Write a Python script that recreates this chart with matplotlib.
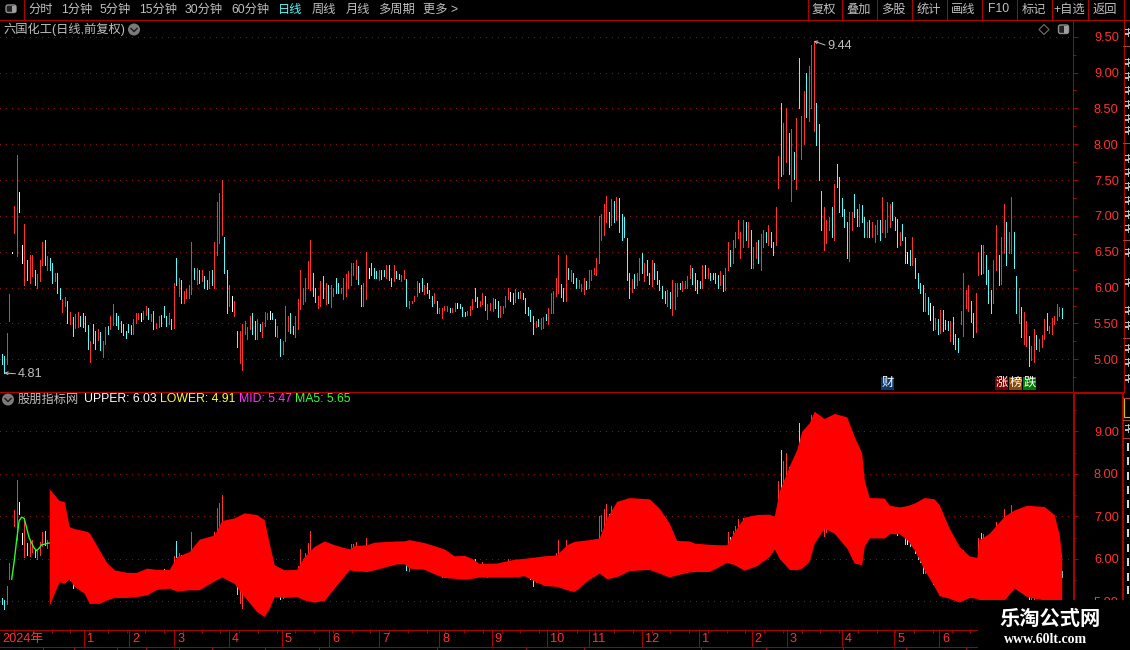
import numpy as np
import matplotlib
matplotlib.use("Agg")
import matplotlib.pyplot as plt
from matplotlib.patches import FancyBboxPatch, Rectangle, Circle, Polygon
from matplotlib.ticker import MultipleLocator, FormatStrFormatter

plt.rcParams['font.family'] = ['Liberation Sans', 'Noto Sans CJK SC', 'DejaVu Sans']
plt.rcParams['lines.scale_dashes'] = False

# ---------- data ----------
bar_high = [
 5.07,5.04,5.37,5.91,6.49,7.14,7.85,7.34,6.60,6.89,
 6.38,6.45,6.45,6.24,6.19,6.39,6.63,6.66,6.44,6.41,
 6.34,6.21,6.20,5.99,5.84,5.87,5.81,5.66,5.59,5.63,
 5.66,5.60,5.64,5.60,5.48,5.25,5.49,5.39,5.42,5.38,
 5.25,5.45,5.46,5.60,5.77,5.64,5.60,5.53,5.49,5.39,
 5.49,5.48,5.56,5.64,5.64,5.64,5.67,5.75,5.71,5.63,
 5.67,5.50,5.60,5.62,5.75,5.60,5.64,5.56,6.06,6.41,
 6.14,6.10,5.95,5.98,6.03,6.63,6.27,6.28,6.24,6.25,
 6.16,6.10,6.23,6.24,6.64,7.19,7.32,7.50,6.70,6.24,
 6.03,5.88,5.81,5.39,5.39,5.49,5.53,5.45,5.60,5.64,
 5.53,5.56,5.49,5.52,5.66,5.64,5.67,5.64,5.56,5.46,
 5.28,5.25,5.74,5.60,5.64,5.46,5.60,5.84,
 6.24,5.99,6.14,6.37,6.66,6.20,5.99,5.89,6.09,6.16,
 6.06,6.03,6.03,6.00,6.13,6.07,6.00,6.13,6.19,6.23,
 6.35,6.34,6.39,6.30,6.03,6.06,6.49,6.28,6.34,6.27,
 6.23,6.24,6.24,6.25,6.32,6.32,6.13,6.31,6.23,6.19,
 6.17,6.24,6.12,5.81,5.82,5.89,6.09,6.06,6.13,6.03,
 6.06,5.96,5.88,5.92,5.81,5.71,5.71,5.75,5.74,5.71,
 5.71,5.78,5.78,5.77,5.73,5.66,5.67,5.74,5.84,5.99,
 5.87,5.81,5.92,5.88,5.77,5.78,5.85,5.84,5.81,5.74,
 5.74,5.89,6.00,5.94,5.92,5.98,5.94,5.95,5.92,5.85,
 5.73,5.69,5.60,5.53,5.56,5.57,5.59,5.63,5.71,5.92,
 5.95,6.14,6.45,6.05,5.99,6.45,6.27,6.24,6.20,6.13,
 6.10,6.05,6.13,6.09,6.25,6.25,6.28,6.41,7.00,
 7.02,7.17,7.28,7.05,7.23,7.21,7.27,7.25,7.02,6.98,
 6.69,6.20,6.12,6.19,6.20,6.41,6.48,6.35,6.38,6.21,
 6.38,6.35,6.23,6.10,6.02,5.95,5.96,5.94,6.10,6.06,
 6.06,6.06,6.09,6.09,6.16,6.32,6.28,6.20,6.10,6.09,
 6.31,6.32,6.27,6.21,6.20,6.20,6.17,6.23,6.17,6.27,
 6.64,6.52,6.66,6.77,6.94,6.77,6.95,6.91,6.91,6.80,
 6.57,6.64,6.66,6.75,6.80,6.78,6.88,6.77,6.64,7.13,
 7.84,8.57,8.30,8.50,8.16,8.21,7.89,8.37,9.20,8.39,
 8.74,8.99,9.09,9.38,9.44,8.57,8.28,7.35,7.12,6.95,
 6.99,7.13,7.44,7.73,7.55,7.25,7.10,6.91,7.05,7.05,
 7.31,7.10,7.16,7.15,6.98,6.91,
 6.95,6.91,6.88,6.95,6.95,7.27,6.94,7.19,7.17,7.19,
 6.98,6.96,6.77,6.89,6.71,6.50,6.52,6.70,6.41,6.21,
 6.06,6.03,5.92,5.87,5.78,5.74,5.57,5.56,5.69,5.69,
 5.55,5.53,5.53,5.59,5.35,5.30,5.67,6.21,5.96,6.03,
 5.82,5.64,5.92,6.50,6.60,6.59,6.45,6.24,5.96,6.38,
 6.87,6.46,6.70,7.17,6.91,6.77,7.27,6.77,6.16,5.99,
 5.73,5.66,5.53,5.32,5.19,5.42,5.34,5.28,5.34,5.56,
 5.64,5.46,5.57,5.60,5.77,5.73,5.71,
]
bar_low = [
 4.94,4.81,4.94,5.53,6.48,6.76,6.44,7.06,6.35,6.03,
 6.10,6.06,6.16,6.03,5.99,6.09,6.31,6.32,6.25,6.25,
 6.06,6.09,5.92,5.84,5.66,5.74,5.50,5.49,5.32,5.44,
 5.45,5.46,5.45,5.39,5.14,4.96,5.23,5.14,5.27,5.13,
 5.03,5.21,5.35,5.42,5.48,5.48,5.42,5.38,5.34,5.30,
 5.38,5.35,5.35,5.50,5.56,5.53,5.56,5.62,5.56,5.53,
 5.42,5.44,5.45,5.46,5.59,5.46,5.49,5.42,5.44,6.03,
 5.89,5.78,5.78,5.85,5.85,5.91,6.12,6.05,6.07,6.09,
 6.00,5.98,6.00,6.03,5.99,6.45,6.62,6.74,6.21,5.64,
 5.75,5.67,5.60,5.17,4.95,4.85,5.35,5.28,5.42,5.35,
 5.28,5.28,5.39,5.31,5.46,5.56,5.56,5.56,5.32,5.31,
 5.05,5.07,5.25,5.39,5.37,5.35,5.31,5.42,
 5.70,5.77,5.81,5.99,5.96,5.88,5.80,5.71,5.74,5.85,
 5.77,5.78,5.73,5.88,5.92,5.92,5.92,5.84,5.89,6.00,
 6.03,6.17,6.12,6.05,5.74,5.74,5.84,6.13,6.17,6.14,
 6.13,6.10,6.12,6.16,6.14,6.10,6.02,6.09,6.13,6.12,
 6.09,6.12,5.74,5.71,5.78,5.81,5.88,5.94,5.95,5.91,
 5.92,5.85,5.74,5.78,5.64,5.64,5.57,5.69,5.67,5.66,
 5.66,5.67,5.71,5.71,5.60,5.60,5.62,5.62,5.70,5.81,
 5.73,5.74,5.77,5.69,5.56,5.69,5.67,5.71,5.59,5.59,
 5.64,5.73,5.84,5.82,5.77,5.80,5.85,5.85,5.84,5.64,
 5.62,5.53,5.35,5.45,5.46,5.42,5.44,5.55,5.49,5.64,
 5.64,5.89,5.92,5.87,5.81,5.81,6.12,6.09,6.07,5.99,
 5.99,5.95,5.91,5.98,6.00,6.10,6.19,6.17,6.34,
 6.66,6.73,6.92,6.84,6.88,6.91,6.94,6.77,6.66,6.70,
 6.10,5.85,5.94,6.00,6.03,6.10,6.21,6.09,6.17,6.05,
 6.02,6.12,6.05,5.96,5.85,5.78,5.74,5.71,5.62,5.70,
 5.88,5.98,5.95,5.99,5.99,6.13,6.05,5.96,5.92,6.00,
 6.00,6.13,6.14,6.10,6.12,6.07,5.99,6.03,5.95,5.96,
 6.24,6.30,6.35,6.57,6.69,6.41,6.56,6.66,6.56,6.27,
 6.27,6.42,6.35,6.24,6.57,6.63,6.60,6.56,6.46,6.59,
 7.39,7.56,7.59,7.75,7.59,7.21,7.52,7.37,8.50,7.80,
 8.00,8.38,8.32,8.50,8.19,7.99,7.50,6.80,6.53,6.62,
 6.80,6.70,6.67,7.41,7.06,7.00,6.85,6.41,6.37,6.81,
 6.98,6.86,6.86,6.91,6.71,6.70,
 6.71,6.71,6.64,6.75,6.66,6.78,6.70,6.78,6.84,6.95,
 6.80,6.56,6.60,6.67,6.35,6.34,6.31,6.31,6.13,6.00,
 5.92,5.67,5.67,5.63,5.55,5.41,5.42,5.35,5.37,5.39,
 5.42,5.41,5.25,5.21,5.14,5.10,5.49,5.32,5.71,5.67,
 5.52,5.31,5.38,6.17,6.19,6.20,6.05,5.78,5.64,5.78,
 6.25,6.03,6.05,6.48,6.31,6.48,6.48,6.27,5.64,5.50,
 5.31,5.21,5.19,4.91,4.99,4.96,5.14,5.12,5.17,5.28,
 5.41,5.37,5.35,5.49,5.55,5.60,5.57,
]
# r = up, c = down, w = flat
bar_kind = (
 "ccrrwrrwwr" "crrcrrrcrc" "crccrrcrcr" "rccccrccrc" "rrcrrccccc" "ccrrrwrrcr"
 "crrcccrcrc" "rcrrrrcrcr" "ccrcrrrrcc" "rwrcrrrrrc" "crcrrrwccr" "crrrccrr"
 "rrrrrccrrc" "rcrrccrrrr" "rrrccrrwcc" "crccrccrcc" "rrcrrrrccr" "cccrcrrrrc"
 "rrwcccrrrc" "crrcrrrccr" "rrrwcrcrcc" "cccrcrrcrr" "rrrccrcrcc" "rrrcrrrrr"
 "rrrcrcrccc" "ccrcrrcrcc" "rcccccrcrr" "rcrrrrcccc" "rcrccccrcr" "rcrrrrrcrc"
 "rrcrrcrccr" "rcrrcrcrcr" "rcrrrcccrr" "rcrcccccrr" "ccrccr"
 "crrrcrrrrc" "ccrccwcrcc" "ccrcwcrcrc" "ccrcccrrrr" "ccrrcrcccr" "rcrrcrrccr"
 "crrcrrcrrr" "crrrrrc"
)

# channel in the lower panel (day on the chart's 0-424 session scale)
env_day = [19,21,23,25,27,29,33,35,39,42,45,50,54,58,62,67,70,75,79,85,88,93,97,102,105,107,109,113,118,
           121,125,129,133,139,141,146,149,158,161,163,169,174,177,181,185,188,191,198,205,209,213,217,222,
           226,229,235,239,242,246,251,259,263,267,270,275,277,283,287,290,293,297,302,307,309,311,315,318,
           320,323,325,329,333,338,341,344,345,347,353,355,359,362,365,369,373,375,379,383,387,390,391,395,
           401,405,410,417,421,423,424]
env_upper = [7.65,7.51,7.37,7.35,6.76,6.71,6.66,6.62,6.21,5.91,5.74,5.68,5.68,5.78,5.75,5.75,6.05,6.17,6.46,6.56,6.90,6.96,7.08,7.04,6.92,6.37,5.86,5.74,5.75,
             6.05,6.29,6.42,6.33,6.23,6.31,6.33,6.39,6.42,6.42,6.45,6.38,6.29,6.23,6.07,6.08,6.01,5.89,5.90,5.99,6.01,6.04,6.07,6.09,
             6.33,6.41,6.45,6.49,6.96,7.35,7.44,7.41,7.19,6.84,6.43,6.42,6.37,6.34,6.33,6.33,6.64,6.98,7.04,7.05,7.00,7.59,8.18,8.57,
             9.00,9.20,9.47,9.30,9.42,9.34,8.88,8.49,7.86,7.44,7.43,7.26,7.22,7.25,7.31,7.44,7.41,7.27,6.72,6.29,6.07,6.03,6.45,6.60,
             7.00,7.15,7.26,7.23,7.04,6.56,6.05]
env_lower = [4.89,5.19,5.46,5.42,5.53,5.35,5.19,4.95,4.95,5.03,5.09,5.09,5.11,5.15,5.28,5.31,5.24,5.27,5.27,5.48,5.57,5.42,5.11,4.76,4.64,4.83,5.11,5.09,5.11,
             5.03,4.98,5.02,5.31,5.74,5.72,5.70,5.74,5.88,5.88,5.78,5.75,5.62,5.56,5.54,5.52,5.54,5.57,5.57,5.57,5.60,5.48,5.37,5.35,
             5.27,5.23,5.52,5.66,5.53,5.58,5.72,5.75,5.66,5.57,5.62,5.69,5.70,5.70,5.82,5.92,5.86,5.73,5.84,6.05,6.23,6.01,5.75,5.74,
             5.78,5.94,6.37,6.72,6.60,6.25,5.90,5.86,6.29,6.49,6.49,6.59,6.59,6.45,6.21,5.74,5.35,5.13,5.07,4.98,5.09,5.07,5.03,5.03,
             5.03,5.31,5.11,5.03,5.03,5.00,4.91]

ma5_day = [4,5,6,7,8,9,10,11,12,13,14,15,16,17,18,19]
ma5_val = [5.52,5.94,6.45,6.90,6.98,6.95,6.72,6.49,6.37,6.25,6.19,6.25,6.33,6.34,6.36,6.37]

legend_vals = [("UPPER: 6.03", "#FFFFFF"), ("LOWER: 4.91", "#FFFF33"), ("MID: 5.47", "#FF33FF"), ("MA5: 5.65", "#33FF33")]
month_day = [33,51,69,91,112,131,151,175,196,218,235,256,279,300,314,336,357,375]
month_label = ["1","2","3","4","5","6","7","8","9","10","11","12","1","2","3","4","5","6"]
tool_left = ["分时","1分钟","5分钟","15分钟","30分钟","60分钟","日线","周线","月线","多周期","更多 >"]
tool_right = ["复权","叠加","多股","统计","画线","F10","标记","+自选","返回"]

RED = "#FF3232"; CYAN = "#54FCFC"; WHITE = "#FFFFFF"
FRAME = "#B00000"; GRID = "#8C1010"; GREY = "#C0C0C0"
LW1 = 0.68
kind_color = {"r": RED, "c": CYAN, "w": WHITE}

W, H = 1130, 650
fig = plt.figure(figsize=(W / 100, H / 100), dpi=100, facecolor="black")

def panel(left, top, right, bottom, **kw):
    return fig.add_axes([left / W, 1 - bottom / H, (right - left) / W, (bottom - top) / H], facecolor="black", **kw)

n = len(bar_high)
days = np.arange(n) * 424 / (n - 1)
colors = [kind_color[k] for k in bar_kind]
XLIM = (-0.68, 428.5)

ax_up = panel(0, 20, 1073, 391)
ax_lo = panel(0, 393, 1073, 630)
for ax, ylim, major, minor in ((ax_up, (4.558, 9.733), 0.5, 0.25), (ax_lo, (4.324, 9.90), 1.0, 0.5)):
    ax.vlines(days, bar_low, bar_high, colors=colors, lw=LW1, antialiased=False, zorder=2)
    ax.set_xlim(*XLIM); ax.set_ylim(*ylim)
    ax.set_xticks([])
    ax.yaxis.tick_right()
    ax.yaxis.set_major_locator(MultipleLocator(major))
    ax.yaxis.set_minor_locator(MultipleLocator(minor))
    ax.yaxis.set_major_formatter(FormatStrFormatter("%.2f"))
    ax.tick_params(axis="y", which="major", length=3.6, width=LW1, color=FRAME, labelcolor=RED, labelsize=9.2, pad=11.5)
    ax.tick_params(axis="y", which="minor", length=2.2, width=LW1, color=FRAME)
    ax.grid(axis="y", which="major", color=GRID, lw=LW1, ls=(0, (0.72, 3.6)), antialiased=False, zorder=1)
    ax.set_axisbelow(True)
    for s in ("top", "bottom", "left"):
        ax.spines[s].set_visible(False)
    ax.spines["right"].set_color(FRAME); ax.spines["right"].set_linewidth(LW1)

ax_lo.fill_between(env_day, env_upper, env_lower, color="#FF0000", lw=0, antialiased=False, zorder=3)
ax_lo.plot(ma5_day, ma5_val, color="#22FF22", lw=1.0, zorder=4)

for txt, xy, off in (("4.81", (days[1], 4.81), (14, -1)), ("9.44", (days[int(np.argmax(bar_high))], 9.44), (14, -5))):
    ax_up.annotate(txt, xy=xy, xytext=off, textcoords="offset pixels", color=GREY, fontsize=9.2,
                   ha="left", va="center", annotation_clip=False,
                   arrowprops=dict(arrowstyle="->", color=GREY, lw=0.7, shrinkA=0, shrinkB=0, mutation_scale=5, relpos=(0, 0.5)))

# date strip
ax_dt = panel(0, 630, 1073, 647)
ax_dt.set_xlim(*XLIM); ax_dt.set_ylim(0, 1); ax_dt.set_yticks([])
ax_dt.xaxis.tick_top()
ax_dt.set_xticks(month_day); ax_dt.set_xticklabels([])
ax_dt.set_xticks(np.arange(5, 424, 7.5), minor=True)
ax_dt.tick_params(axis="x", which="major", direction="in", length=12, width=LW1, color=FRAME)
ax_dt.tick_params(axis="x", which="minor", direction="in", length=2.2, width=LW1, color=FRAME)
for s in ("left", "right"):
    ax_dt.spines[s].set_visible(False)
for s in ("top", "bottom"):
    ax_dt.spines[s].set_color(FRAME); ax_dt.spines[s].set_linewidth(LW1)
for d, lab in zip(month_day, month_label):
    ax_dt.annotate(lab, xy=(d, 0.45), xytext=(3, 0), textcoords="offset pixels", color=RED, fontsize=9.2, va="center", ha="left")
ax_dt.annotate("2024年", xy=(0, 0.45), xytext=(1, 0), textcoords="offset pixels", color=RED, fontsize=9.2, va="center", ha="left")

# chrome drawn in pixel coordinates
ov = fig.add_axes([0, 0, 1, 1], zorder=10)
ov.set_xlim(0, W); ov.set_ylim(H, 0); ov.axis("off"); ov.patch.set_alpha(0)

def hline(y, x0, x1, lw=LW1, c=FRAME): ov.plot([x0, x1], [y, y], color=c, lw=lw, solid_capstyle="butt", antialiased=False)
def vline(x, y0, y1, lw=LW1, c=FRAME): ov.plot([x, x], [y0, y1], color=c, lw=lw, solid_capstyle="butt", antialiased=False)
def label(x, y, s, c=GREY, size=8.8, **kw):
    kw.setdefault("ha", "left"); kw.setdefault("va", "center")
    ov.text(x, y, s, color=c, fontsize=size, **kw)

hline(19.5, 0, 1130)
hline(391.5, 0, 1123)
vline(23.5, 0, 19)
for x in (807, 841, 876, 911, 946, 981, 1016, 1051, 1087, 1123):
    vline(x + 0.5, 0, 19)
vline(1123.5, 19, 392)
ov.add_patch(Rectangle((1073.5, 392.5), 49.5, 260, fill=False, ec=FRAME, lw=1.4))

left_x = [28, 61, 100, 139, 185, 231, 278, 312, 346, 378, 423]
for x, s in zip(left_x, tool_left):
    label(x, 9.5, s, CYAN if s == "日线" else GREY)
right_cx = [824, 858.5, 893.5, 928.5, 963.5, 998.5, 1033.5, 1069, 1105]
for x, s in zip(right_cx, tool_right):
    label(x, 9.5, s, ha="center")

ov.add_patch(FancyBboxPatch((6, 5), 10, 7.5, boxstyle="round,pad=0,rounding_size=2", fc="#222222", ec="#909090", lw=1))
ov.add_patch(Rectangle((11.5, 5.5), 4, 6.5, fc="#A0A0A0", ec="none"))
ov.add_patch(FancyBboxPatch((1058.5, 25), 10, 8.5, boxstyle="round,pad=0,rounding_size=2", fc="#222222", ec="#909090", lw=1))
ov.add_patch(Rectangle((1064, 25.5), 4, 7.5, fc="#A0A0A0", ec="none"))
ov.add_patch(Polygon([(1044, 24.5), (1049, 29.5), (1044, 34.5), (1039, 29.5)], closed=True, fill=False, ec="#707070", lw=0.8))

label(3, 29.5, "六国化工(日线,前复权)")
for cx, cy in ((134, 29.5), (8, 399.5)):
    ov.add_patch(Circle((cx, cy), 6, fc="#7A7A7A", ec="none"))
    ov.plot([cx - 3, cx, cx + 3], [cy - 1, cy + 2, cy - 1], color="#1A1A1A", lw=1)

label(18, 399.5, "股朋指标网")
for x, (s, c) in zip((84, 160, 239, 295), legend_vals):
    label(x, 399.5, s, c)

for x, s, bg in ((881, "财", "#0A3A6A"), (995, "涨", "#7A0000"), (1009, "榜", "#8B4A00"), (1023, "跌", "#007A00")):
    ov.add_patch(Rectangle((x, 377), 13, 13, fc=bg, ec="none"))
    label(x + 6.5, 383, s, "#FFFFFF", size=8.8, ha="center")

# clipped side list on the right edge: unreadable glyph ends, drawn as small marks
for y in (45, 142, 239, 337, 397, 419, 437):
    hline(y + 0.5, 1123, 1130, c="#B04040")
for y in (32, 62, 76, 90, 104, 118, 130, 158, 172, 186, 200, 214, 228, 252, 282, 310, 325, 348, 362, 378, 428):
    ov.plot([1125, 1130], [y - 3, y - 3], color="#B8B8B8", lw=LW1, antialiased=False)
    ov.plot([1126, 1130], [y + 2, y + 1], color="#B8B8B8", lw=LW1, antialiased=False)
    vline(1127.5, y - 4, y + 4, c="#B8B8B8")
ov.add_patch(Rectangle((1124, 398), 8, 19, fill=False, ec="#C8C800", lw=0.8))
for y in (447, 461, 476, 490, 504, 519, 533, 548, 562, 577, 590):
    vline(1127.5, y - 4, y + 4, lw=1.4, c="#D8D8D8")

# lower date rule ticks and watermark
for x in (42, 73, 116, 145, 178, 211, 264, 318, 436, 525, 583, 700, 765, 842, 905, 965):
    vline(x + 0.5, 647, 650)
ov.add_patch(Rectangle((978, 600), 152, 50, fc="#000000", ec="none"))
ov.text(1050, 618, "乐淘公式网", color="#FFFFFF", fontsize=14.6, fontweight="bold", ha="center", va="center",
        family=["Noto Sans CJK SC", "DejaVu Sans"])
ov.text(1046, 639.5, "www.60lt.com", color="#FFFFFF", fontsize=10, fontweight="bold", ha="center", va="center",
        family=["Liberation Serif", "DejaVu Serif"])

fig.savefig("out.png", dpi=100, facecolor="black")
